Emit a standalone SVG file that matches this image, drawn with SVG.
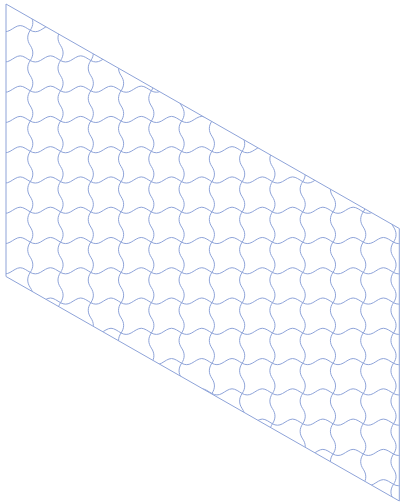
<svg xmlns="http://www.w3.org/2000/svg" width="400" height="504" viewBox="0 0 400 504">
<style>.t{fill:none;stroke:#8ea3d8;stroke-width:1}</style>
<defs>
<clipPath id="c"><polygon points="6,4 399.3,228.5 399.3,501 6,276.5"/></clipPath>
<path id="h" d="M0,0 c3.363,1.9 6.727,1.9 10.09,0 c3.363,-1.9 6.727,-4.7 10.09,-4.7 c3.363,0 6.727,2.8 10.09,4.7 c3.363,1.9 6.727,1.9 10.09,0 c3.363,-1.9 6.727,-4.7 10.09,-4.7 c3.363,0 6.727,2.8 10.09,4.7 c3.363,1.9 6.727,1.9 10.09,0 c3.363,-1.9 6.727,-4.7 10.09,-4.7 c3.363,0 6.727,2.8 10.09,4.7 c3.363,1.9 6.727,1.9 10.09,0 c3.363,-1.9 6.727,-4.7 10.09,-4.7 c3.363,0 6.727,2.8 10.09,4.7 c3.363,1.9 6.727,1.9 10.09,0 c3.363,-1.9 6.727,-4.7 10.09,-4.7 c3.363,0 6.727,2.8 10.09,4.7 c3.363,1.9 6.727,1.9 10.09,0 c3.363,-1.9 6.727,-4.7 10.09,-4.7 c3.363,0 6.727,2.8 10.09,4.7 c3.363,1.9 6.727,1.9 10.09,0 c3.363,-1.9 6.727,-4.7 10.09,-4.7 c3.363,0 6.727,2.8 10.09,4.7 c3.363,1.9 6.727,1.9 10.09,0 c3.363,-1.9 6.727,-4.7 10.09,-4.7 c3.363,0 6.727,2.8 10.09,4.7 c3.363,1.9 6.727,1.9 10.09,0 c3.363,-1.9 6.727,-4.7 10.09,-4.7 c3.363,0 6.727,2.8 10.09,4.7 c3.363,1.9 6.727,1.9 10.09,0 c3.363,-1.9 6.727,-4.7 10.09,-4.7 c3.363,0 6.727,2.8 10.09,4.7 c3.363,1.9 6.727,1.9 10.09,0 c3.363,-1.9 6.727,-4.7 10.09,-4.7 c3.363,0 6.727,2.8 10.09,4.7 c3.363,1.9 6.727,1.9 10.09,0 c3.363,-1.9 6.727,-4.7 10.09,-4.7 c3.363,0 6.727,2.8 10.09,4.7 c3.363,1.9 6.727,1.9 10.09,0 c3.363,-1.9 6.727,-4.7 10.09,-4.7 c3.363,0 6.727,2.8 10.09,4.7 c3.363,1.9 6.727,1.9 10.09,0 c3.363,-1.9 6.727,-4.7 10.09,-4.7 c3.363,0 6.727,2.8 10.09,4.7"/>
<path id="v" d="M0,0 c-3.4,5.045 -3.4,10.09 0,15.135 c3.4,5.045 3.4,10.09 0,15.135 c-3.4,5.045 -3.4,10.09 0,15.135 c3.4,5.045 3.4,10.09 0,15.135 c-3.4,5.045 -3.4,10.09 0,15.135 c3.4,5.045 3.4,10.09 0,15.135 c-3.4,5.045 -3.4,10.09 0,15.135 c3.4,5.045 3.4,10.09 0,15.135 c-3.4,5.045 -3.4,10.09 0,15.135 c3.4,5.045 3.4,10.09 0,15.135 c-3.4,5.045 -3.4,10.09 0,15.135 c3.4,5.045 3.4,10.09 0,15.135 c-3.4,5.045 -3.4,10.09 0,15.135 c3.4,5.045 3.4,10.09 0,15.135 c-3.4,5.045 -3.4,10.09 0,15.135 c3.4,5.045 3.4,10.09 0,15.135 c-3.4,5.045 -3.4,10.09 0,15.135 c3.4,5.045 3.4,10.09 0,15.135 c-3.4,5.045 -3.4,10.09 0,15.135 c3.4,5.045 3.4,10.09 0,15.135 c-3.4,5.045 -3.4,10.09 0,15.135 c3.4,5.045 3.4,10.09 0,15.135 c-3.4,5.045 -3.4,10.09 0,15.135 c3.4,5.045 3.4,10.09 0,15.135 c-3.4,5.045 -3.4,10.09 0,15.135 c3.4,5.045 3.4,10.09 0,15.135 c-3.4,5.045 -3.4,10.09 0,15.135 c3.4,5.045 3.4,10.09 0,15.135 c-3.4,5.045 -3.4,10.09 0,15.135 c3.4,5.045 3.4,10.09 0,15.135 c-3.4,5.045 -3.4,10.09 0,15.135 c3.4,5.045 3.4,10.09 0,15.135 c-3.4,5.045 -3.4,10.09 0,15.135 c3.4,5.045 3.4,10.09 0,15.135"/>
</defs>
<g id="tiling" class="t" clip-path="url(#c)">
<g id="rows">
<use href="#h" y="0"/><use href="#h" y="30.27"/><use href="#h" y="60.54"/><use href="#h" y="90.81"/><use href="#h" y="121.08"/><use href="#h" y="151.35"/><use href="#h" y="181.62"/><use href="#h" y="211.89"/><use href="#h" y="242.16"/><use href="#h" y="272.43"/><use href="#h" y="302.7"/><use href="#h" y="332.97"/><use href="#h" y="363.24"/><use href="#h" y="393.51"/><use href="#h" y="423.78"/><use href="#h" y="454.05"/><use href="#h" y="484.32"/><use href="#h" y="514.59"/>
</g>
<g id="cols">
<use href="#v" x="0"/><use href="#v" x="30.27"/><use href="#v" x="60.54"/><use href="#v" x="90.81"/><use href="#v" x="121.08"/><use href="#v" x="151.35"/><use href="#v" x="181.62"/><use href="#v" x="211.89"/><use href="#v" x="242.16"/><use href="#v" x="272.43"/><use href="#v" x="302.7"/><use href="#v" x="332.97"/><use href="#v" x="363.24"/><use href="#v" x="393.51"/>
</g>
</g>
<polygon id="frame" class="t" points="6,4 399.3,228.5 399.3,501 6,276.5"/>
</svg>
